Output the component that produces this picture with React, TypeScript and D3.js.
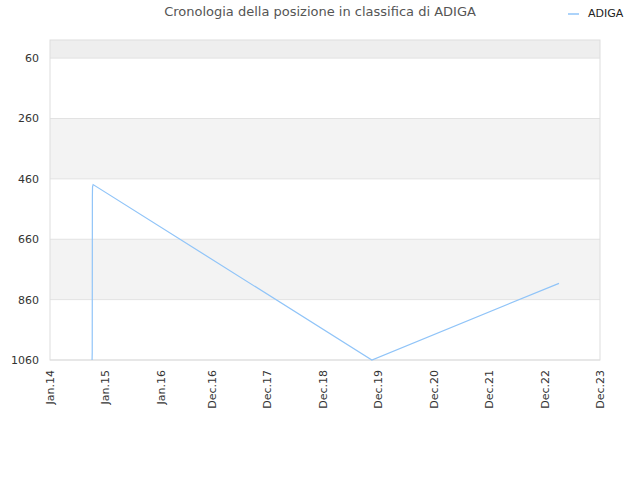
import React from "react";
import * as d3 from "d3";

const dates = ["2014-10-05", "2014-10-06", "2014-10-07", "2014-10-08", "2014-10-12", "2019-10-21", "2023-03-06"];
const ranks = [1060, 1035, 520, 486, 479, 1060, 806];
const yTicks = [60, 260, 460, 660, 860, 1060];
const xTickDates = ["2014-01-01", "2015-01-01", "2016-01-01", "2016-12-01", "2017-12-01", "2018-12-01", "2019-12-01", "2020-12-01", "2021-12-01", "2022-12-01", "2023-12-01"];
const xTickLabels = ["Jan.14", "Jan.15", "Jan.16", "Dec.16", "Dec.17", "Dec.18", "Dec.19", "Dec.20", "Dec.21", "Dec.22", "Dec.23"];
const seriesName = "ADIGA";
const title = "Cronologia della posizione in classifica di ADIGA";

export default function App() {
  const W = 640, H = 480;
  const left = 50, right = 600, top = 40, bottom = 360;
  const parse = d3.utcParse("%Y-%m-%d");
  const x = d3.scaleUtc().domain([parse("2014-01-01")!, parse("2023-12-01")!]).range([left, right]);
  const y = d3.scaleLinear().domain([0, 1060]).range([top, bottom]);
  const pts = dates.map((d, i) => [x(parse(d)!), y(ranks[i])] as [number, number]);
  const line = d3.line()(pts) || "";
  const bands = [[0, 60, "#eeeeee"], [60, 260, "#ffffff"], [260, 460, "#f3f3f3"], [460, 660, "#ffffff"], [660, 860, "#f3f3f3"], [860, 1060, "#ffffff"]] as [number, number, string][];
  const font = "DejaVu Sans, sans-serif";
  return (
    <svg width={W} height={H} style={{ position: "absolute", left: 0, top: 0, background: "#fff" }} fontFamily={font}>
      {bands.map(([a, b, c], i) => (
        <rect key={i} x={left} y={y(a)} width={right - left} height={y(b) - y(a)} fill={c} />
      ))}
      {yTicks.map((t) => (
        <line key={t} x1={left} x2={right} y1={y(t)} y2={y(t)} stroke="#e2e2e2" strokeWidth={1} />
      ))}
      <rect x={left} y={top} width={right - left} height={bottom - top} fill="none" stroke="#dddddd" strokeWidth={1} />
      {yTicks.map((t) => (
        <text key={t} x={left - 11} y={y(t) + 4} textAnchor="end" fontSize={11} fill="#333">{t}</text>
      ))}
      {xTickDates.map((d, i) => {
        const xx = x(parse(d)!);
        return (
          <text key={d} transform={`translate(${xx + 4},${bottom + 10}) rotate(-90)`} textAnchor="end" fontSize={11} fill="#333">
            {xTickLabels[i]}
          </text>
        );
      })}
      <path d={line} fill="none" stroke="#90c4f8" strokeWidth={1.2} />
      <text x={320} y={16} textAnchor="middle" fontSize={13} fill="#555">{title}</text>
      <line x1={568} x2={579} y1={14} y2={14} stroke="#90c4f8" strokeWidth={1.5} />
      <text x={588} y={17} fontSize={11} fill="#222">{seriesName}</text>
    </svg>
  );
}
